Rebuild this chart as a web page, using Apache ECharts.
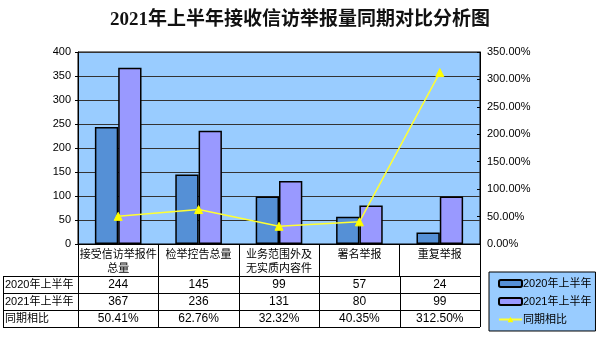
<!DOCTYPE html>
<html><head><meta charset="utf-8">
<script src="https://cdn.jsdelivr.net/npm/echarts@6/dist/echarts.min.js"></script>
<style>html,body{margin:0;padding:0;background:#fff}#c{width:600px;height:337px}</style>
</head><body><div id="c"></div>
<script>
const categories = ['接受信访举报件\n总量', '检举控告总量', '业务范围外及\n无实质内容件', '署名举报', '重复举报'];
const seriesNames = ['2020年上半年', '2021年上半年', '同期相比'];
const values2020 = [244, 145, 99, 57, 24];
const values2021 = [367, 236, 131, 80, 99];
const ratio = [50.41, 62.76, 32.32, 40.35, 312.50];

const FONT = '"Liberation Sans","Noto Sans CJK SC",sans-serif';
const chart = echarts.init(document.getElementById('c'), null, {renderer: 'canvas'});

const option = {
  animation: false,
  backgroundColor: '#fff',
  title: {
    text: '2021年上半年接收信访举报量同期对比分析图',
    left: 105, top: 6,
    textStyle: {fontFamily: '"Liberation Serif","Noto Sans CJK SC",serif', fontSize: 19, fontWeight: 'bold', color: '#111'}
  },
  legend: {
    orient: 'vertical',
    left: 489, top: 272, width: 110, height: 61,
    padding: [6, 4, 6, 9],
    itemGap: 7,
    itemWidth: 23, itemHeight: 7,
    backgroundColor: '#99CCFF',
    borderColor: '#000', borderWidth: 1,
    textStyle: {fontFamily: FONT, fontSize: 11, color: '#000', padding: [0,0,0,-4]},
    data: seriesNames
  },
  grid: {left: 78, right: 120, top: 52, bottom: 93, show: true, backgroundColor: '#99CCFF', borderColor: '#000', borderWidth: 1},
  xAxis: {
    type: 'category', data: categories,
    axisLine: {lineStyle: {color: '#000', width: 1}},
    axisTick: {show: true, length: 32, lineStyle: {color: '#000'}},
    axisLabel: {interval: 0, fontFamily: FONT, fontSize: 11, color: '#000', lineHeight: 14, margin: 4}
  },
  yAxis: [
    {type: 'value', min: 0, max: 400, interval: 50,
     axisLine: {show: true, lineStyle: {color: '#000'}},
     axisTick: {show: true, length: 3, lineStyle: {color: '#000'}},
     axisLabel: {fontFamily: FONT, fontSize: 11, color: '#000', margin: 7},
     splitLine: {lineStyle: {color: '#333', width: 1}}},
    {type: 'value', min: 0, max: 350, interval: 50,
     axisLine: {show: true, lineStyle: {color: '#000'}},
     axisTick: {show: true, inside: true, length: 3, lineStyle: {color: '#000'}},
     axisLabel: {fontFamily: FONT, fontSize: 11, color: '#000', margin: 7, formatter: v => v.toFixed(2) + '%'},
     splitLine: {show: false}}
  ],
  series: [
    {name: seriesNames[0], type: 'bar', data: values2020, barGap: '0%', barCategoryGap: '42%',
     itemStyle: {color: '#5590D6', borderColor: '#000', borderWidth: 1.5}},
    {name: seriesNames[1], type: 'bar', data: values2021,
     itemStyle: {color: '#9999FF', borderColor: '#000', borderWidth: 1.5}},
    {name: seriesNames[2], type: 'line', yAxisIndex: 1, data: ratio,
     symbol: 'triangle', symbolSize: 8,
     lineStyle: {color: '#FFFF33', width: 1.5},
     itemStyle: {color: '#FFFF00', borderColor: '#FFFF00'}}
  ]
};
chart.setOption(option);

// Data table below the axis, positioned from the axis scales
const rows = [
  {label: seriesNames[0], cells: values2020.map(String)},
  {label: seriesNames[1], cells: values2021.map(String)},
  {label: seriesNames[2], cells: ratio.map(v => v.toFixed(2) + '%')}
];
const x0 = chart.convertToPixel({xAxisIndex: 0}, 0);
const x1 = chart.convertToPixel({xAxisIndex: 0}, 1);
const step = x1 - x0;
const plotLeft = x0 - step / 2;
const plotRight = plotLeft + step * categories.length;
const base = chart.convertToPixel({yAxisIndex: 0}, 0);
const rowTop = base + 32, rowH = 17, tableLeft = 3;
const els = [];
const line = (a, b, c, d) => els.push({type: 'line', shape: {x1: a, y1: b, x2: c, y2: d}, style: {stroke: '#000', lineWidth: 1}, silent: true});
for (let r = 0; r <= rows.length; r++) {
  const y = Math.round(rowTop + r * rowH) + 0.5;
  line(tableLeft, y, plotRight, y);
}
const yEnd = rowTop + rows.length * rowH;
line(tableLeft + 0.5, rowTop, tableLeft + 0.5, yEnd);
for (let i = 0; i <= categories.length; i++) {
  const x = Math.round(plotLeft + i * step) + 0.5;
  line(x, rowTop, x, yEnd);
}
rows.forEach((row, r) => {
  const cy = rowTop + r * rowH + rowH / 2 + 0.5;
  els.push({type: 'text', x: tableLeft + 2, y: cy, style: {text: row.label, fontFamily: FONT, fontSize: 11, fill: '#000', verticalAlign: 'middle', align: 'left'}});
  row.cells.forEach((t, i) => {
    els.push({type: 'text', x: chart.convertToPixel({xAxisIndex: 0}, i), y: cy, style: {text: t, fontFamily: FONT, fontSize: 12, fill: '#000', verticalAlign: 'middle', align: 'center'}});
  });
});
chart.setOption({graphic: els});
</script>
</body></html>
